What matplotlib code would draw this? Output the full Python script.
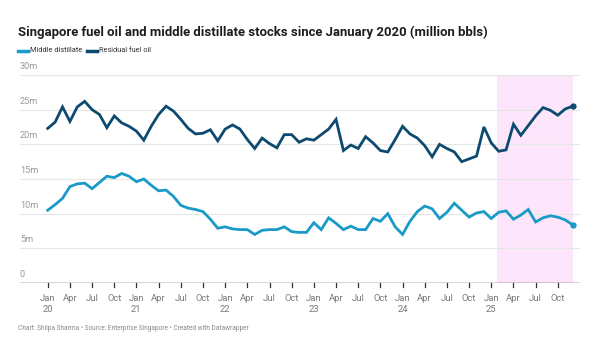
import matplotlib
matplotlib.use("Agg")
import matplotlib.pyplot as plt
import numpy as np

plt.rcParams['font.family'] = ['Roboto', 'DejaVu Sans']

# Monthly data, Jan 2020 .. Dec 2025 (million bbls)
months = list(range(72))
middle_distillate = [
    10.5, 11.3, 12.2, 13.9, 14.3, 14.4, 13.6, 14.5, 15.4, 15.2, 15.8, 15.4,
    14.6, 15.0, 14.1, 13.3, 13.4, 12.5, 11.2, 10.8, 10.6, 10.3, 9.2, 7.9,
    8.1, 7.8, 7.7, 7.7, 7.0, 7.6, 7.7, 7.7, 8.1, 7.4, 7.3, 7.3,
    8.7, 7.7, 9.4, 8.6, 7.7, 8.2, 7.7, 7.7, 9.3, 8.9, 10.0, 8.1,
    7.0, 8.9, 10.3, 11.1, 10.7, 9.3, 10.2, 11.5, 10.5, 9.5, 10.1, 10.3,
    9.3, 10.2, 10.4, 9.2, 9.8, 10.6, 8.8, 9.4, 9.7, 9.5, 9.1, 8.4,
]
residual_fuel_oil = [
    22.3, 23.2, 25.4, 23.3, 25.4, 26.2, 25.0, 24.3, 22.4, 24.1, 23.1, 22.6,
    21.9, 20.6, 22.6, 24.3, 25.5, 24.8, 23.6, 22.3, 21.5, 21.6, 22.1, 20.5,
    22.2, 22.8, 22.2, 20.7, 19.4, 20.9, 20.1, 19.5, 21.4, 21.4, 20.3, 20.8,
    20.6, 21.4, 22.2, 23.6, 19.1, 19.9, 19.4, 21.1, 20.2, 19.1, 18.9, 20.7,
    22.6, 21.5, 20.9, 19.8, 18.2, 20.0, 19.4, 18.9, 17.5, 17.9, 18.3, 22.5,
    20.2, 19.0, 19.2, 22.9, 21.3, 22.7, 24.1, 25.3, 24.9, 24.2, 25.1, 25.5,
]
series_names = ["Middle distillate", "Residual fuel oil"]
y_ticks = [0, 5, 10, 15, 20, 25, 30]
y_tick_labels = ["0", "5m", "10m", "15m", "20m", "25m", "30m"]
month_names = ["Jan", "Apr", "Jul", "Oct"]
years = ["20", "21", "22", "23", "24", "25"]
highlight_start, highlight_end = 60.77, 71

c_mid = "#1a9ac6"
c_res = "#0d4a6f"

fig = plt.figure(figsize=(6.0, 3.54), dpi=100)
W, H = 600, 354
ax = fig.add_axes([20 / W, 1 - 283 / H, 560 / W, 208 / H])
ax.set_xlim(-3.75, 72.0)
ax.set_ylim(0, 30)
for s in ax.spines.values():
    s.set_visible(False)
ax.set_yticks([])
ax.set_xticks([])

# highlight
ax.axvspan(highlight_start, highlight_end, color="#fde6fb", zorder=0, lw=0)

# gridlines + labels
for v, lab in zip(y_ticks, y_tick_labels):
    if v == 0:
        ax.axhline(v, color="#333333", lw=1.0, zorder=3)
    else:
        ax.axhline(v, color="#e6e6e6", lw=0.8, zorder=1)
    ax.annotate(lab, xy=(0, v), xycoords=("axes fraction", "data"),
                xytext=(0, 3), textcoords="offset points",
                fontsize=6.6, color="#9a9a9a", ha="left", va="bottom")

# x ticks
for yi, yr in enumerate(years):
    for mi, mn in enumerate(month_names):
        m = yi * 12 + mi * 3
        ax.plot([m, m], [0, -0.6], color="#333333", lw=0.9, clip_on=False, zorder=3)
        lab = mn + ("\n" + yr if mi == 0 else "")
        ax.annotate(lab, xy=(m, 0), xycoords="data", xytext=(0, -8),
                    textcoords="offset points", ha="center", va="top",
                    fontsize=6.8, color="#7a7a7a", linespacing=1.3)

ax.plot(months, middle_distillate, color=c_mid, lw=2.0, zorder=5,
        solid_joinstyle="miter")
ax.plot(months, residual_fuel_oil, color=c_res, lw=2.0, zorder=5,
        solid_joinstyle="miter")
ax.plot(months[-1], middle_distillate[-1], "o", color=c_mid, ms=3.5, zorder=6)
ax.plot(months[-1], residual_fuel_oil[-1], "o", color=c_res, ms=3.5, zorder=6)

# title
fig.text(18 / W, 1 - 32 / H,
         "Singapore fuel oil and middle distillate stocks since January 2020 (million bbls)",
         fontsize=9.45, fontweight="bold", color="#1d1d1d", ha="left", va="center")

# legend
for lx, name, col in zip([18, 87], series_names, [c_mid, c_res]):
    fig.add_artist(plt.Line2D([lx / W, (lx + 10) / W], [1 - 51 / H] * 2,
                              color=col, lw=2.5, transform=fig.transFigure))
    fig.text((lx + 12) / W, 1 - 51 / H, name, fontsize=5.3, color="#333333",
             ha="left", va="center")

# footer
fig.text(18 / W, 1 - 328 / H,
         "Chart: Shilpa Sharma \u2022 Source: Enterprise Singapore \u2022 Created with Datawrapper",
         fontsize=4.7, color="#8a8a8a", ha="left", va="center")

fig.savefig("out.png", dpi=100, facecolor="white")
